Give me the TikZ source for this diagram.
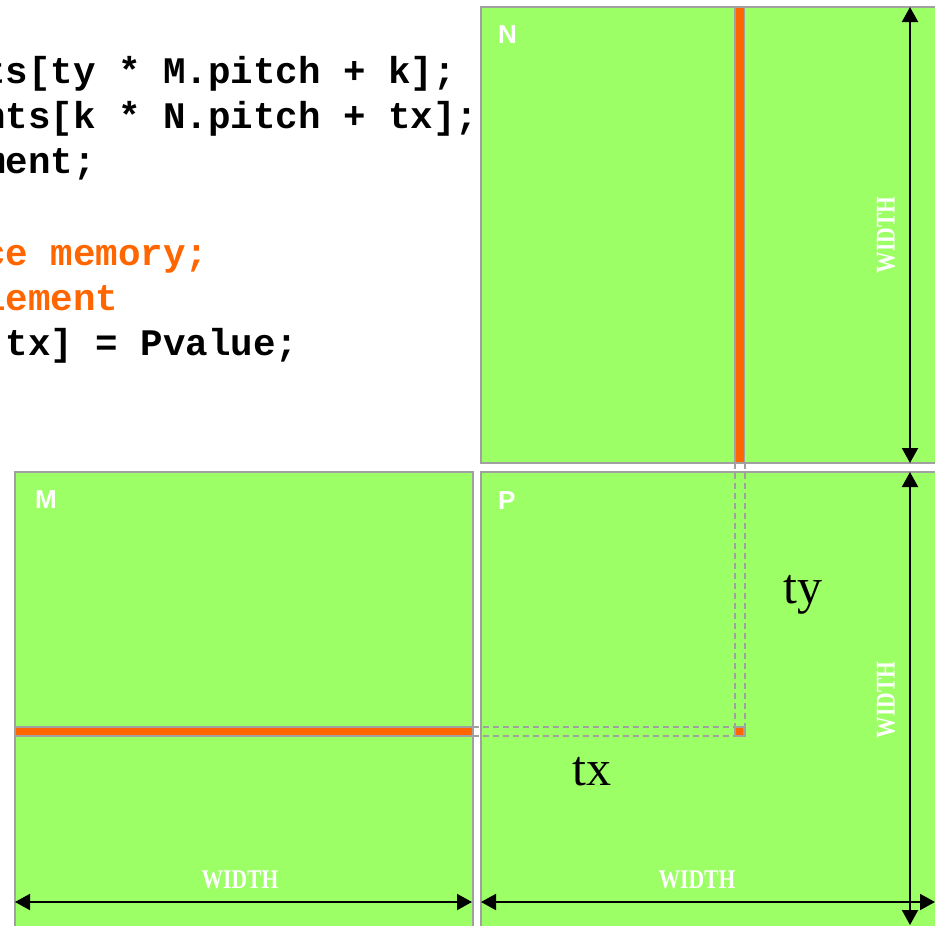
\documentclass[tikz,border=0pt]{standalone}
\usepackage{fontspec}
\setmainfont{Liberation Serif}
\newfontfamily\codefont{Liberation Mono}
\newfontfamily\labelfont{Liberation Sans}
\usetikzlibrary{arrows.meta}
\definecolor{mgreen}{RGB}{157,255,102}
\definecolor{morange}{RGB}{255,102,0}
\definecolor{mgray}{RGB}{160,160,160}
\begin{document}
\begin{tikzpicture}[x=1pt,y=-1pt,
  box/.style={fill=mgreen,draw=mgray,line width=2pt},
  strip/.style={fill=morange,draw=mgray,line width=1.8pt},
  guide/.style={draw=mgray,line width=2pt,dash pattern=on 6pt off 4pt},
  dim/.style={line width=2pt,{Triangle[width=16pt,length=15pt]}-{Triangle[width=16pt,length=15pt]}},
  code/.style={anchor=base west,inner sep=0pt,font=\codefont\bfseries\fontsize{37.5}{45}\selectfont},
  wlabel/.style={text=white,inner sep=0pt,font=\bfseries\fontsize{27}{27}\selectfont,xscale=0.8},
  mlabel/.style={anchor=base west,inner sep=0pt,text=white,font=\labelfont\bfseries\fontsize{26}{26}\selectfont},
  idx/.style={anchor=base west,inner sep=0pt,font=\fontsize{50}{50}\selectfont}]
\useasboundingbox (0,0) rectangle (935,926);
\fill[white] (0,0) rectangle (935,926);
\begin{scope}
\clip (0,0) rectangle (935,926);
% code
\node[code] (c1) at (-17,83) {ts[ty * M.pitch + k];};
\node[code] (c2) at (-17,128) {nts[k * N.pitch + tx];};
\node[code] (c3) at (-17,173) {ment;};
\node[code,text=morange] (c4) at (-17,265) {ce memory;};
\node[code,text=morange] (c5) at (-17,310) {lement};
\node[code] (c6) at (5.5,355) {tx] = Pvalue;};
% matrices
\draw[box] (15,472) rectangle (473,945);
\draw[box] (481,7) rectangle (950,463);
\draw[box] (481,472) rectangle (950,945);
% strips
\draw[strip] (735,7) rectangle (744.5,463);
\draw[strip] (15,727) rectangle (473,736);
% guides
\coordinate (g1a) at (735,463);   \coordinate (g1b) at (735,727);
\coordinate (g2a) at (744.5,463); \coordinate (g2b) at (744.5,736);
\coordinate (g3a) at (473,727);   \coordinate (g3b) at (735,727);
\coordinate (g4a) at (473,736);   \coordinate (g4b) at (744.5,736);
\draw[guide] (g1a) -- (g1b);
\draw[guide] (g2a) -- (g2b);
\draw[guide] (g3a) -- (g3b);
\draw[guide] (g4a) -- (g4b);
\draw[strip,line width=2.5pt] (735,727) rectangle (744.5,736);
% dimension arrows
\coordinate (na) at (910,7);   \coordinate (nb) at (910,463);
\coordinate (pa) at (910,472); \coordinate (pb) at (910,925);
\coordinate (ma) at (15,902);  \coordinate (mb) at (472,902);
\coordinate (qa) at (481,902); \coordinate (qb) at (935,902);
\draw[dim] (na) -- (nb);
\draw[dim] (pa) -- (pb);
\draw[dim] (ma) -- (mb);
\draw[dim] (qa) -- (qb);
% labels
\node[wlabel] (w1) at (240,880) {WIDTH};
\node[wlabel] (w2) at (697,880) {WIDTH};
\node[rotate=90,wlabel] (w3) at (886,235) {WIDTH};
\node[rotate=90,wlabel] (w4) at (886,700) {WIDTH};
\node[idx] (tx) at (572,785) {tx};
\node[idx] (ty) at (783,603) {ty};
\node[mlabel] (lN) at (498,43) {N};
\node[mlabel] (lM) at (35,508) {M};
\node[mlabel] (lP) at (498,509) {P};
\end{scope}
\end{tikzpicture}
\end{document}
